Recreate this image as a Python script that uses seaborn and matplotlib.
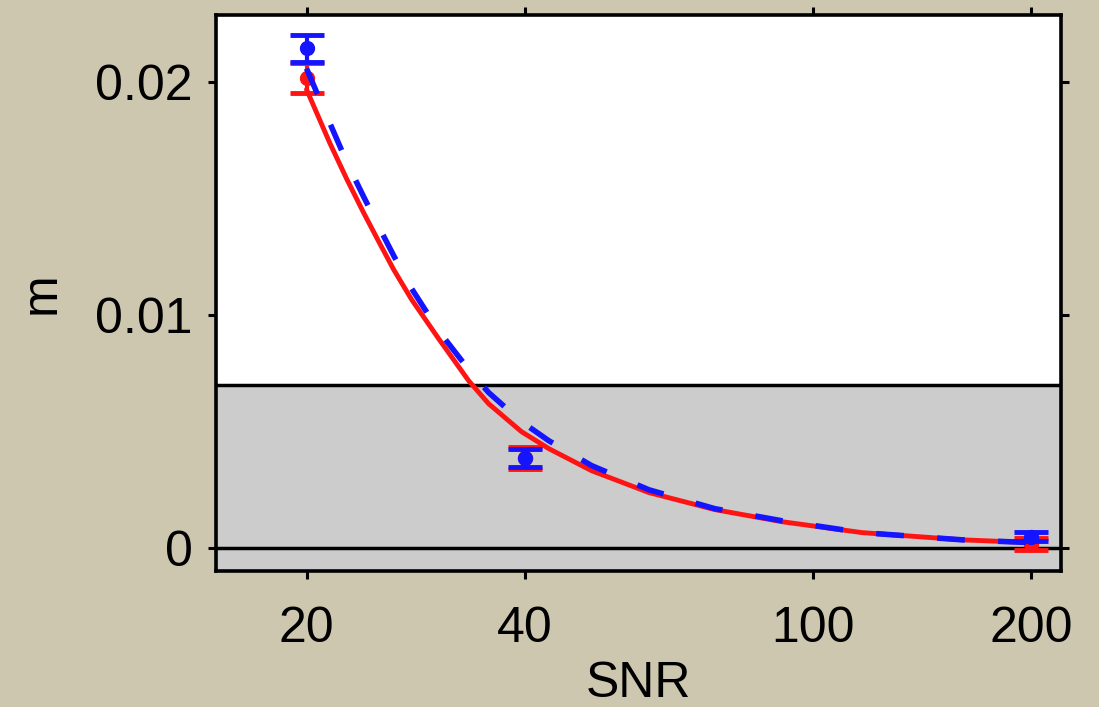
import numpy as np
import pandas as pd
import matplotlib
matplotlib.use("Agg")
import matplotlib.pyplot as plt
from matplotlib.ticker import FixedLocator, NullLocator, FixedFormatter
import seaborn as sns

# ---- data ----
red_curve_snr = [20, 21.52, 22.71, 23.97, 25.24, 26.38, 27.93, 30.43, 33.48, 35.68, 39.6, 43.2,
                 49.5, 59.4, 73.2, 90.6, 116.9, 160.6, 200]
red_curve_m = [0.0197, 0.01742, 0.01587, 0.01441, 0.01308, 0.01196, 0.01067, 0.00899, 0.00718,
               0.00619, 0.00499, 0.00426, 0.00331, 0.00237, 0.00164, 0.00112, 0.00065, 0.00034,
               0.00022]
blue_curve_snr = red_curve_snr
blue_curve_m = [0.0206, 0.01828, 0.0166, 0.0151, 0.01372, 0.01256, 0.01114, 0.00933, 0.00766,
                0.00667, 0.00542, 0.0046, 0.00353, 0.00249, 0.00168, 0.00116, 0.00065, 0.00034,
                0.00022]

snr_points = [20, 40, 200]
red_m = [0.0202, 0.00387, 0.00017]
red_err = [0.00065, 0.00047, 0.00026]
blue_m = [0.02146, 0.00387, 0.00047]
blue_err = [0.0006, 0.00039, 0.0002]

x_ticks = [20, 40, 100, 200]
x_ticklabels = ["20", "40", "100", "200"]
y_ticks = [0, 0.01, 0.02]
y_ticklabels = ["0", "0.01", "0.02"]
band_top = 0.007

sns.set_style("white")
plt.rcParams['font.family'] = ['Liberation Sans', 'DejaVu Sans']

bg = '#cec7b0'
red = '#ff1414'
blue = '#1414ff'
fig = plt.figure(figsize=(10.99, 7.07), dpi=100, facecolor=bg)
ax = fig.add_subplot(111)
fig.subplots_adjust(left=216/1099, right=1061/1099, top=1-15/707, bottom=1-571/707)
ax.set_facecolor('white')

ax.set_xscale('log')
ax.set_xlim(15, 220)
ax.set_ylim(-0.001, 0.0229)

# gray band and lines
ax.axhspan(-0.002, band_top, color='#cccccc', zorder=0, lw=0)
ax.axhline(band_top, color='black', lw=2.5, zorder=1)
ax.axhline(0, color='black', lw=2.5, zorder=1)

red_df = pd.DataFrame({'SNR': red_curve_snr, 'm': red_curve_m})
blue_df = pd.DataFrame({'SNR': blue_curve_snr, 'm': blue_curve_m})

sns.lineplot(data=red_df, x='SNR', y='m', ax=ax, color=red, lw=3.5, zorder=3,
             estimator=None, sort=False)
ax.errorbar(snr_points, red_m, yerr=red_err, fmt='o', color=red, ms=10, capsize=12,
            capthick=3.5, elinewidth=3, zorder=4)
sns.lineplot(data=blue_df, x='SNR', y='m', ax=ax, color=blue, lw=4, zorder=5,
             estimator=None, sort=False)
ax.lines[-1].set_dashes([5, 6])
ax.errorbar(snr_points, blue_m, yerr=blue_err, fmt='o', color=blue, ms=10, capsize=12,
            capthick=3.5, elinewidth=3, zorder=6)

ax.xaxis.set_major_locator(FixedLocator(x_ticks))
ax.xaxis.set_major_formatter(FixedFormatter(x_ticklabels))
ax.xaxis.set_minor_locator(NullLocator())
ax.set_yticks(y_ticks)
ax.set_yticklabels(y_ticklabels)

ax.tick_params(axis='both', which='major', direction='out', length=6, width=2.2,
               labelsize=36, colors='black', top=True, right=True, bottom=True, left=True,
               labeltop=False, labelright=False)
ax.tick_params(axis='x', pad=19)
ax.tick_params(axis='y', pad=11)

for s in ax.spines.values():
    s.set_visible(True)
    s.set_color('black')
    s.set_linewidth(2.6)
    s.set_zorder(10)

ax.set_xlabel('SNR', fontsize=36, color='black')
ax.set_ylabel('m', fontsize=36, color='black')
ax.xaxis.set_label_coords(0.5, -(661 - 571) / 556)
ax.yaxis.set_label_coords(-(216 - 65) / 845, 0.5)

fig.savefig('out.png', dpi=100, facecolor=bg)
